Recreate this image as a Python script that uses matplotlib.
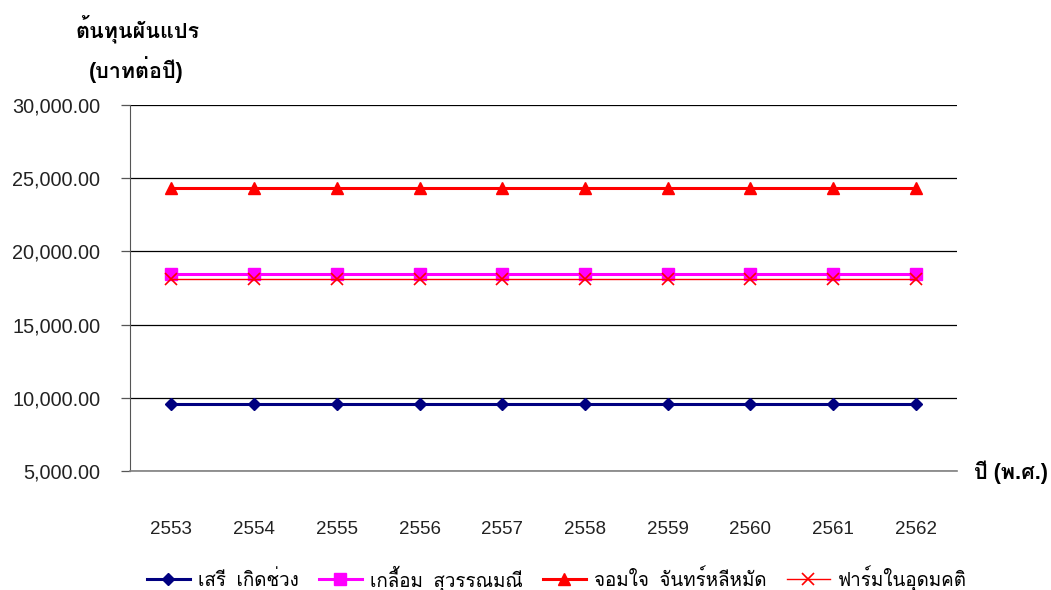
import matplotlib
matplotlib.use("Agg")
import matplotlib.pyplot as plt
from matplotlib.ticker import FuncFormatter

plt.rcParams["font.family"] = ["Liberation Sans", "Loma"]

# years (B.E.) and variable cost per farm (baht / year)
years = ["2553", "2554", "2555", "2556", "2557", "2558", "2559", "2560", "2561", "2562"]
seri = [9600] * 10
kluem = [18450] * 10
jomjai = [24300] * 10
farm = [18100] * 10

names = ["เสรี  เกิดช่วง", "เกลื้อม  สุวรรณมณี", "จอมใจ  จันทร์หลีหมัด", "ฟาร์มในอุดมคติ"]

fig = plt.figure(figsize=(10.51, 5.9), dpi=100)
ax = fig.add_axes([0.1237, 0.2017, 0.787, 0.6203])

x = range(len(years))
ax.plot(x, seri, color="#000080", lw=2.2, marker="D", ms=6.5, label=names[0])
ax.plot(x, kluem, color="#FF00FF", lw=2.2, marker="s", ms=8, label=names[1])
ax.plot(x, jomjai, color="#FF0000", lw=2.2, marker="^", ms=9, label=names[2])
ax.plot(x, farm, color="#FF0000", lw=1.0, marker="x", ms=9, mew=1.2, label=names[3])

ax.set_xlim(-0.5, 9.5)
ax.set_ylim(5000, 30000)
ax.set_yticks(range(5000, 30001, 5000))
ax.yaxis.set_major_formatter(FuncFormatter(lambda v, p: f"{v:,.2f}"))
ax.set_xticks(list(x))
ax.set_xticklabels(years)

ax.grid(axis="y", color="black", lw=0.9)
ax.set_axisbelow(True)
for s in ["top", "right"]:
    ax.spines[s].set_visible(False)
ax.spines["left"].set_color("#555555")
ax.spines["bottom"].set_color("#808080")
ax.spines["bottom"].set_linewidth(1.2)

ax.tick_params(axis="y", length=6.5, width=0.9, color="#555555", pad=15, labelsize=14.3, labelcolor="#222222")
ax.tick_params(axis="x", length=0, pad=36, labelsize=13.5, labelcolor="#222222")

fig.text(0.072, 0.951, "ต้นทุนผันแปร", fontsize=15.5, fontweight="bold", va="center")
fig.text(0.085, 0.882, "(บาทต่อปี)", fontsize=15.5, fontweight="bold", va="center")
fig.text(0.927, 0.2, "ปี (พ.ศ.)", fontsize=15.5, fontweight="bold", va="center")

fig.legend(loc="center", bbox_to_anchor=(0.530, 0.02), ncol=4, frameon=False,
           fontsize=13.5, handlelength=2.3, handletextpad=0.45, columnspacing=1.05)

fig.savefig("out.png")
